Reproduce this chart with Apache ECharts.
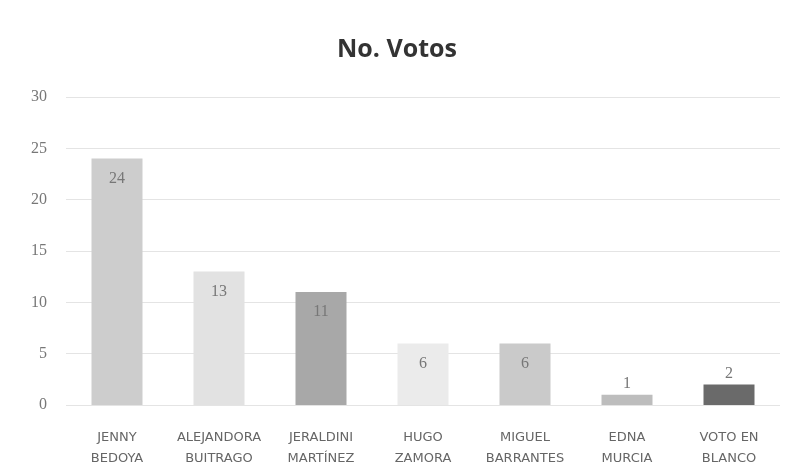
<!DOCTYPE html>
<html lang="es">

<head>
  <meta charset="UTF-8">
  <title>No. Votos</title>
  <style>
    * {
      margin: 0;
      padding: 0;
    }
    body {
      background-color: #ffffff;
    }
    #main {
      width: 794px;
      height: 474px;
    }
  </style>
</head>

<body>
  <div id="main"></div>
  <script src="https://cdn.jsdelivr.net/npm/echarts@6/dist/echarts.min.js"></script>
  <script>
    // candidatos y votos
    var candidatos = ['JENNY\nBEDOYA', 'ALEJANDORA\nBUITRAGO', 'JERALDINI\nMARTÍNEZ', 'HUGO\nZAMORA',
      'MIGUEL\nBARRANTES', 'EDNA\nMURCIA', 'VOTO EN\nBLANCO'];
    var votos = [24, 13, 11, 6, 6, 1, 2];
    var colores = ['#cdcdcd', '#e2e2e2', '#a8a8a8', '#ebebeb', '#cacaca', '#bdbdbd', '#6a6a6a'];
    var posEtiqueta = ['insideTop', 'insideTop', 'insideTop', 'insideTop', 'insideTop', 'top', 'top'];

    var myChart = echarts.init(document.getElementById('main'));

    var datos = votos.map(function (v, i) {
      return {
        value: v,
        itemStyle: { color: colores[i] },
        label: { position: posEtiqueta[i], distance: posEtiqueta[i] === 'top' ? 3 : 12 }
      };
    });

    var option = {
      backgroundColor: '#ffffff',
      title: {
        text: 'No. Votos',
        left: 'center',
        top: 32,
        textStyle: {
          fontFamily: 'Open Sans',
          fontSize: 25,
          fontWeight: 'bold',
          color: '#333333'
        }
      },
      grid: {
        left: 66,
        right: 14,
        top: 97,
        bottom: 69
      },
      xAxis: {
        type: 'category',
        data: candidatos,
        axisLine: { show: false },
        axisTick: { show: false },
        axisLabel: {
          margin: 22,
          interval: 0,
          color: '#666666',
          fontFamily: 'DejaVu Sans, sans-serif',
          fontSize: 13,
          lineHeight: 21
        }
      },
      yAxis: {
        type: 'value',
        min: 0,
        max: 30,
        interval: 5,
        axisLine: { show: false },
        axisTick: { show: false },
        axisLabel: {
          margin: 19,
          color: '#777777',
          fontFamily: 'Liberation Serif',
          fontSize: 16
        },
        splitLine: {
          lineStyle: { color: '#e4e4e4', width: 1 }
        }
      },
      series: [{
        type: 'bar',
        data: datos,
        barWidth: 51,
        label: {
          show: true,
          color: '#777777',
          fontFamily: 'Liberation Serif',
          fontSize: 16
        }
      }]
    };

    myChart.setOption(option);
  </script>
</body>

</html>
